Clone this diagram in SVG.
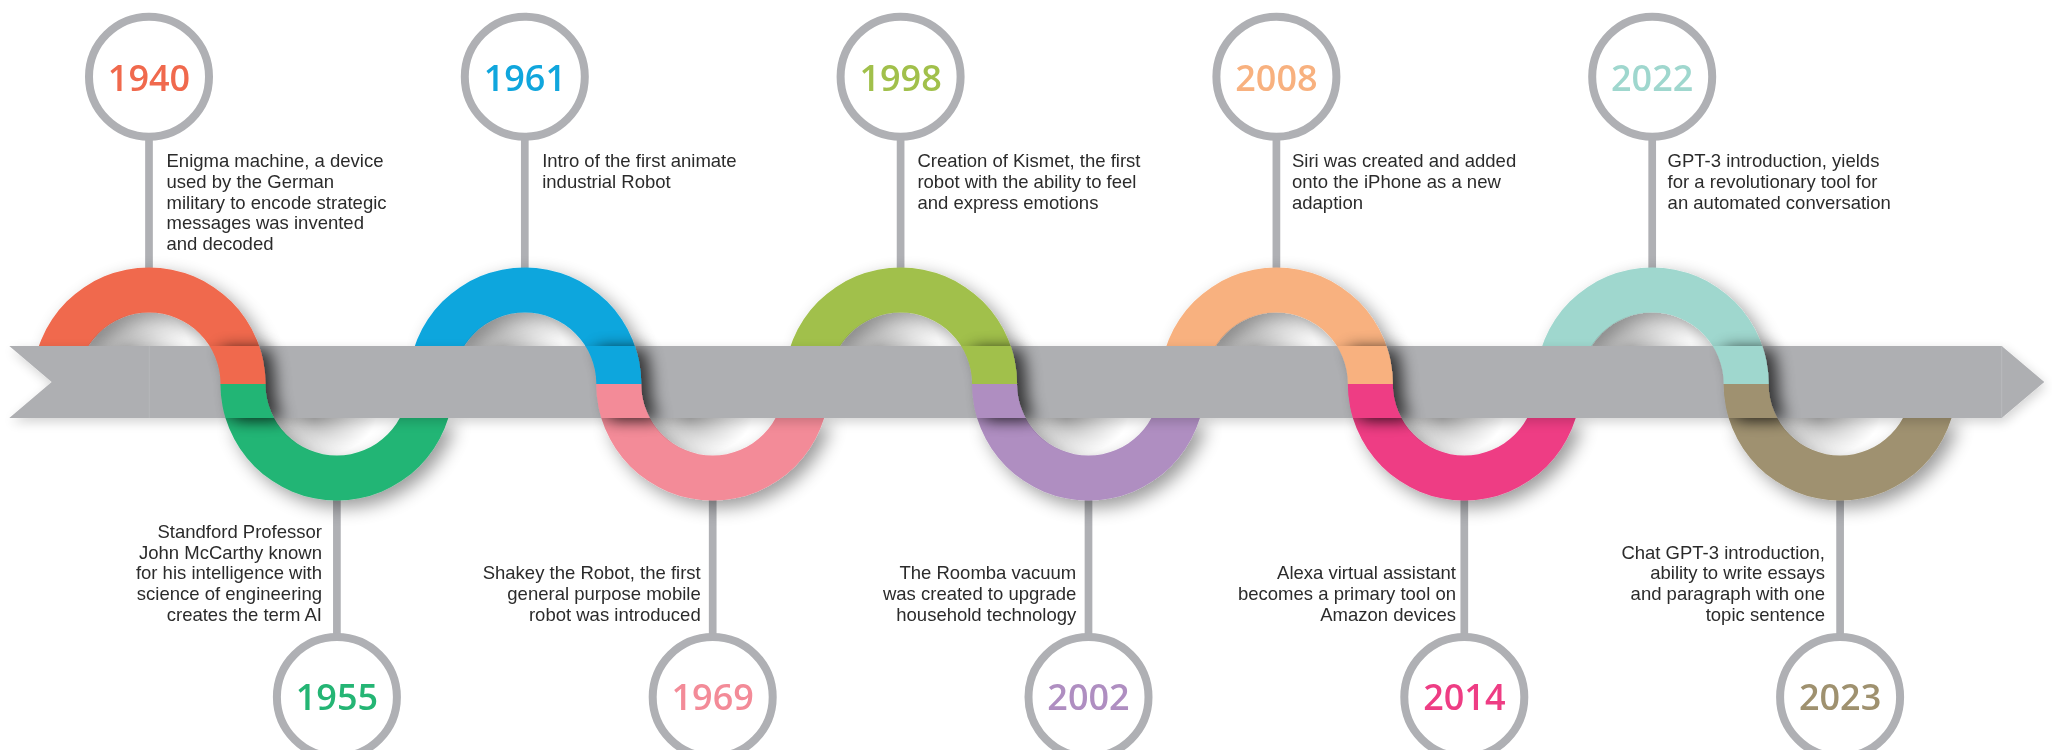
<svg xmlns="http://www.w3.org/2000/svg" xmlns:xlink="http://www.w3.org/1999/xlink" width="2052" height="750" viewBox="0 0 2052 750">
<style>
.pin{stroke:#AFB0B4;stroke-width:7.7;fill:none}
.dot{stroke:#AFB0B4;stroke-width:8;fill:#fff}
.yr{font-family:"Open Sans","Liberation Sans",sans-serif;font-weight:600;font-size:36px;text-anchor:middle}
.desc{font-family:"Liberation Sans",Arial,sans-serif;font-size:18.5px;fill:#2b2b2b}
.r{text-anchor:end}
.hole{fill:url(#hg)}
</style>
<defs>
<path id="ringTop" d="M-116.5 0 A116.5 116.5 0 0 1 116.5 0 L71.5 0 A71.5 71.5 0 0 0 -71.5 0 Z"/>
<path id="ringBot" d="M-116.5 0 A116.5 116.5 0 0 0 116.5 0 L71.5 0 A71.5 71.5 0 0 1 -71.5 0 Z"/>
<clipPath id="sclip"><rect x="55" y="346" width="82" height="72"/></clipPath>
<clipPath id="outband"><rect x="0" y="0" width="2052" height="346.5"/><rect x="0" y="417.5" width="2052" height="333"/></clipPath>
<clipPath id="holeC"><circle cx="0" cy="384" r="72"/></clipPath>
<radialGradient id="hg">
<stop offset="0" stop-color="#000" stop-opacity="0.32"/>
<stop offset="0.6" stop-color="#000" stop-opacity="0.12"/>
<stop offset="1" stop-color="#000" stop-opacity="0"/>
</radialGradient>
<filter id="sh" x="-30%" y="-30%" width="160%" height="160%">
<feGaussianBlur in="SourceAlpha" stdDeviation="9"/>
<feOffset dx="7" dy="7"/>
<feComponentTransfer><feFuncA type="linear" slope="0.4"/></feComponentTransfer>
<feMerge><feMergeNode/><feMergeNode in="SourceGraphic"/></feMerge>
</filter>
<filter id="shS" x="-50%" y="-50%" width="200%" height="200%">
<feGaussianBlur in="SourceAlpha" stdDeviation="8"/>
<feOffset dx="10" dy="2"/>
<feComponentTransfer><feFuncA type="linear" slope="0.7"/></feComponentTransfer>
<feMerge><feMergeNode/><feMergeNode in="SourceGraphic"/></feMerge>
</filter>
<filter id="shB" x="-5%" y="-50%" width="110%" height="200%">
<feGaussianBlur in="SourceAlpha" stdDeviation="6"/>
<feOffset dx="2" dy="4"/>
<feComponentTransfer><feFuncA type="linear" slope="0.18"/></feComponentTransfer>
<feMerge><feMergeNode/><feMergeNode in="SourceGraphic"/></feMerge>
</filter>
</defs>
<rect width="2052" height="750" fill="#fff"/>

<!-- pins -->
<g id="pins">
<line class="pin" x1="149" y1="140" x2="149" y2="272"/>
<line class="pin" x1="336.9" y1="496" x2="336.9" y2="634"/>
<line class="pin" x1="524.8" y1="140" x2="524.8" y2="272"/>
<line class="pin" x1="712.7" y1="496" x2="712.7" y2="634"/>
<line class="pin" x1="900.6" y1="140" x2="900.6" y2="272"/>
<line class="pin" x1="1088.5" y1="496" x2="1088.5" y2="634"/>
<line class="pin" x1="1276.4" y1="140" x2="1276.4" y2="272"/>
<line class="pin" x1="1464.3" y1="496" x2="1464.3" y2="634"/>
<line class="pin" x1="1652.2" y1="140" x2="1652.2" y2="272"/>
<line class="pin" x1="1840.1" y1="496" x2="1840.1" y2="634"/>
</g>

<!-- rings (parts outside the band) -->
<g id="rings" filter="url(#sh)"><g clip-path="url(#outband)">
<use xlink:href="#ringTop" x="149" y="384" fill="#F0694D"/>
<use xlink:href="#ringBot" x="336.9" y="384" fill="#24B574"/>
<use xlink:href="#ringTop" x="524.8" y="384" fill="#10A6DD"/>
<use xlink:href="#ringBot" x="712.7" y="384" fill="#F38B98"/>
<use xlink:href="#ringTop" x="900.6" y="384" fill="#A1C04B"/>
<use xlink:href="#ringBot" x="1088.5" y="384" fill="#AF8EC1"/>
<use xlink:href="#ringTop" x="1276.4" y="384" fill="#F8B17F"/>
<use xlink:href="#ringBot" x="1464.3" y="384" fill="#EE3D84"/>
<use xlink:href="#ringTop" x="1652.2" y="384" fill="#9FD7CE"/>
<use xlink:href="#ringBot" x="1840.1" y="384" fill="#9F916F"/>
</g></g>

<!-- depth shading inside the ring holes -->
<g id="holes">
<g transform="translate(149,0)" clip-path="url(#holeC)"><ellipse class="hole" cx="-22" cy="350" rx="62" ry="44"/></g>
<g transform="translate(336.9,0)" clip-path="url(#holeC)"><ellipse class="hole" cx="-22" cy="416" rx="62" ry="40"/></g>
<g transform="translate(524.8,0)" clip-path="url(#holeC)"><ellipse class="hole" cx="-22" cy="350" rx="62" ry="44"/></g>
<g transform="translate(712.7,0)" clip-path="url(#holeC)"><ellipse class="hole" cx="-22" cy="416" rx="62" ry="40"/></g>
<g transform="translate(900.6,0)" clip-path="url(#holeC)"><ellipse class="hole" cx="-22" cy="350" rx="62" ry="44"/></g>
<g transform="translate(1088.5,0)" clip-path="url(#holeC)"><ellipse class="hole" cx="-22" cy="416" rx="62" ry="40"/></g>
<g transform="translate(1276.4,0)" clip-path="url(#holeC)"><ellipse class="hole" cx="-22" cy="350" rx="62" ry="44"/></g>
<g transform="translate(1464.3,0)" clip-path="url(#holeC)"><ellipse class="hole" cx="-22" cy="416" rx="62" ry="40"/></g>
<g transform="translate(1652.2,0)" clip-path="url(#holeC)"><ellipse class="hole" cx="-22" cy="350" rx="62" ry="44"/></g>
<g transform="translate(1840.1,0)" clip-path="url(#holeC)"><ellipse class="hole" cx="-22" cy="416" rx="62" ry="40"/></g>
</g>

<!-- timeline band -->
<g id="band" filter="url(#shB)">
<polygon points="9.3,346 2001.7,346 2044.3,382 2001.7,418 9.3,418 51.7,382" fill="#AEAFB2"/>
</g>
<line x1="149.3" y1="346" x2="149.3" y2="418" stroke="#B6B7BA" stroke-width="1"/>
<line x1="2001.7" y1="346" x2="2001.7" y2="418" stroke="#B9BABD" stroke-width="1"/>

<!-- front S pieces crossing the band -->
<g id="connectors">
<g filter="url(#shS)"><g transform="translate(149,0)" clip-path="url(#sclip)">
<use xlink:href="#ringTop" x="0" y="384" fill="#F0694D"/><use xlink:href="#ringBot" x="187.9" y="384" fill="#24B574"/></g></g>
<g filter="url(#shS)"><g transform="translate(524.8,0)" clip-path="url(#sclip)">
<use xlink:href="#ringTop" x="0" y="384" fill="#10A6DD"/><use xlink:href="#ringBot" x="187.9" y="384" fill="#F38B98"/></g></g>
<g filter="url(#shS)"><g transform="translate(900.6,0)" clip-path="url(#sclip)">
<use xlink:href="#ringTop" x="0" y="384" fill="#A1C04B"/><use xlink:href="#ringBot" x="187.9" y="384" fill="#AF8EC1"/></g></g>
<g filter="url(#shS)"><g transform="translate(1276.4,0)" clip-path="url(#sclip)">
<use xlink:href="#ringTop" x="0" y="384" fill="#F8B17F"/><use xlink:href="#ringBot" x="187.9" y="384" fill="#EE3D84"/></g></g>
<g filter="url(#shS)"><g transform="translate(1652.2,0)" clip-path="url(#sclip)">
<use xlink:href="#ringTop" x="0" y="384" fill="#9FD7CE"/><use xlink:href="#ringBot" x="187.9" y="384" fill="#9F916F"/></g></g>
</g>

<!-- nodes -->
<g id="n1940">
<circle class="dot" cx="149" cy="76.7" r="60"/>
<text class="yr" x="149" y="90.5" fill="#F0694D">1940</text>
<text class="desc"><tspan x="166.5" y="167.3">Enigma machine, a device</tspan><tspan x="166.5" y="188">used by the German</tspan><tspan x="166.5" y="208.7">military to encode strategic</tspan><tspan x="166.5" y="229.4">messages was invented</tspan><tspan x="166.5" y="250">and decoded</tspan></text>
</g>
<g id="n1955">
<circle class="dot" cx="336.9" cy="697" r="60"/>
<text class="yr" x="336.9" y="710.1" fill="#24B574">1955</text>
<text class="desc r"><tspan x="322" y="537.9">Standford Professor</tspan><tspan x="322" y="558.6">John McCarthy known</tspan><tspan x="322" y="579.3">for his intelligence with</tspan><tspan x="322" y="600">science of engineering</tspan><tspan x="322" y="620.7">creates the term AI</tspan></text>
</g>
<g id="n1961">
<circle class="dot" cx="524.8" cy="76.7" r="60"/>
<text class="yr" x="524.8" y="90.5" fill="#10A6DD">1961</text>
<text class="desc"><tspan x="542.2" y="167.3">Intro of the first animate</tspan><tspan x="542.2" y="188">industrial Robot</tspan></text>
</g>
<g id="n1969">
<circle class="dot" cx="712.7" cy="697" r="60"/>
<text class="yr" x="712.7" y="710.1" fill="#F38B98">1969</text>
<text class="desc r"><tspan x="700.7" y="579.3">Shakey the Robot, the first</tspan><tspan x="700.7" y="600">general purpose mobile</tspan><tspan x="700.7" y="620.7">robot was introduced</tspan></text>
</g>
<g id="n1998">
<circle class="dot" cx="900.6" cy="76.7" r="60"/>
<text class="yr" x="900.6" y="90.5" fill="#A1C04B">1998</text>
<text class="desc"><tspan x="917.4" y="167.3">Creation of Kismet, the first</tspan><tspan x="917.4" y="188">robot with the ability to feel</tspan><tspan x="917.4" y="208.7">and express emotions</tspan></text>
</g>
<g id="n2002">
<circle class="dot" cx="1088.5" cy="697" r="60"/>
<text class="yr" x="1088.5" y="710.1" fill="#AF8EC1">2002</text>
<text class="desc r"><tspan x="1076.3" y="579.3">The Roomba vacuum</tspan><tspan x="1076.3" y="600">was created to upgrade</tspan><tspan x="1076.3" y="620.7">household technology</tspan></text>
</g>
<g id="n2008">
<circle class="dot" cx="1276.4" cy="76.7" r="60"/>
<text class="yr" x="1276.4" y="90.5" fill="#F8B17F">2008</text>
<text class="desc"><tspan x="1292" y="167.3">Siri was created and added</tspan><tspan x="1292" y="188">onto the iPhone as a new</tspan><tspan x="1292" y="208.7">adaption</tspan></text>
</g>
<g id="n2014">
<circle class="dot" cx="1464.3" cy="697" r="60"/>
<text class="yr" x="1464.3" y="710.1" fill="#EE3D84">2014</text>
<text class="desc r"><tspan x="1456" y="579.3">Alexa virtual assistant</tspan><tspan x="1456" y="600">becomes a primary tool on</tspan><tspan x="1456" y="620.7">Amazon devices</tspan></text>
</g>
<g id="n2022">
<circle class="dot" cx="1652.2" cy="76.7" r="60"/>
<text class="yr" x="1652.2" y="90.5" fill="#9FD7CE">2022</text>
<text class="desc"><tspan x="1667.6" y="167.3">GPT-3 introduction, yields</tspan><tspan x="1667.6" y="188">for a revolutionary tool for</tspan><tspan x="1667.6" y="208.7">an automated conversation</tspan></text>
</g>
<g id="n2023">
<circle class="dot" cx="1840.1" cy="697" r="60"/>
<text class="yr" x="1840.1" y="710.1" fill="#9F916F">2023</text>
<text class="desc r"><tspan x="1825" y="558.6">Chat GPT-3 introduction,</tspan><tspan x="1825" y="579.3">ability to write essays</tspan><tspan x="1825" y="600">and paragraph with one</tspan><tspan x="1825" y="620.7">topic sentence</tspan></text>
</g>
</svg>
